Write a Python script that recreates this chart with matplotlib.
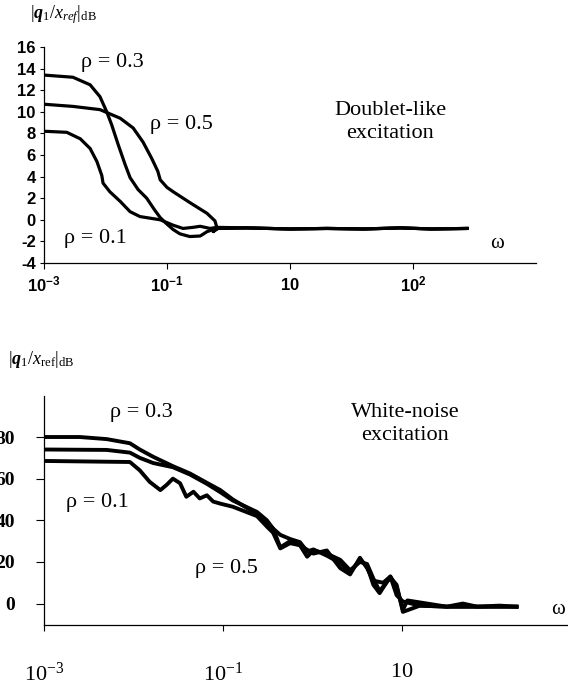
import matplotlib
matplotlib.use("Agg")
import matplotlib.pyplot as plt

plt.rcParams['mathtext.fontset'] = 'custom'
plt.rcParams['mathtext.rm'] = 'Liberation Serif'
plt.rcParams['mathtext.it'] = 'Liberation Serif:italic'
plt.rcParams['mathtext.bf'] = 'Liberation Serif:bold:italic'
plt.rcParams['mathtext.sf'] = 'Liberation Sans:bold'

# x values are log10(omega)
# doublet-like excitation (top)
tail_x = [0.3, 1.0, 1.6, 2.2, 2.8, 3.3, 3.88]
tail_y = [-0.75, -0.85, -0.8, -0.85, -0.75, -0.85, -0.8]

top_x_03 = [-3.0, -2.53, -2.25, -2.09, -1.98, -1.90, -1.79, -1.68, -1.60, -1.47, -1.33,
            -1.20, -1.11, -1.00, -0.90, -0.79, -0.63, -0.46, -0.35, -0.25, -0.17] + tail_x
top_y_03 = [13.4, 13.2, 12.5, 11.4, 10.0, 8.8, 6.9, 5.1, 3.9, 2.8, 2.0,
            0.9, 0.2, -0.4, -0.9, -1.3, -1.55, -1.5, -1.1, -0.9, -0.8] + tail_y

top_x_05 = [-3.0, -2.53, -2.09, -1.76, -1.55, -1.39, -1.25, -1.15, -1.11, -1.00, -0.90,
            -0.63, -0.35, -0.22, -0.19, -0.25, -0.17] + tail_x
top_y_05 = [10.7, 10.5, 10.2, 9.4, 8.5, 7.2, 5.7, 4.5, 3.7, 3.0, 2.6,
            1.6, 0.6, -0.1, -0.7, -1.1, -0.8] + tail_y

top_x_01 = [-3.0, -2.63, -2.41, -2.25, -2.14, -2.06, -2.04, -1.93, -1.76, -1.60, -1.44,
            -1.11, -0.90, -0.74, -0.58, -0.46, -0.30, -0.19] + tail_x
top_y_01 = [8.2, 8.1, 7.5, 6.6, 5.4, 4.1, 3.4, 2.6, 1.7, 0.75, 0.3,
            0.0, -0.5, -0.8, -0.7, -0.6, -0.8, -0.7] + tail_y

top_ticks = [-3, -1, 1, 3]
top_ticklabels = [r'$\mathsf{10^{-3}}$', r'$\mathsf{10^{-1}}$', r'$\mathsf{10}$', r'$\mathsf{10^{2}}$']
top_yticks = [16, 14, 12, 10, 8, 6, 4, 2, 0, -2, -4]

# white-noise excitation (bottom)
bot_x_03 = [-3.0, -2.6, -2.3, -2.04, -1.93, -1.78, -1.56, -1.37, -1.18, -1.03, -0.89, -0.62,
            -0.44, -0.36, -0.25, -0.14, -0.06, 0.01, 0.16, 0.31, 0.42, 0.53, 0.61, 0.68,
            0.75, 0.87, 0.94, 1.01, 1.06, 1.28, 1.50, 1.68, 1.84, 2.09, 2.28]
bot_y_03 = [80, 80, 79, 77, 74, 70.5, 66, 62.5, 58, 54.5, 50, 43,
            36, 33, 31, 29.5, 25, 26, 23, 19.5, 15, 21, 18, 9,
            5, 13, 8, -3, 1.5, 0, -1.5, 0, -1.5, -1, -1.5]

bot_x_05 = [-3.0, -2.3, -2.04, -1.93, -1.78, -1.56, -1.37, -1.18, -1.03, -0.89, -0.62, -0.51,
            -0.44, -0.36, -0.25, -0.14, 0.01, 0.16, 0.31, 0.42, 0.53, 0.61, 0.68, 0.79,
            0.87, 0.94, 1.01, 1.2, 1.5, 1.84, 2.28]
bot_y_05 = [74, 73.8, 72.5, 70, 67.5, 65.5, 62, 57.5, 53.5, 49.5, 44, 40,
            36, 27, 30, 28, 24, 25.5, 17, 14, 22, 17, 11, 10,
            13, 4, 1, -1, -1.5, -1.5, -1.5]

bot_x_01 = [-3.0, -2.04, -1.93, -1.82, -1.70, -1.63, -1.56, -1.48, -1.41, -1.33, -1.26, -1.18,
            -1.11, -1.03, -0.89, -0.62, -0.51, -0.44, -0.36, -0.25, -0.14, -0.06, 0.01, 0.16,
            0.31, 0.42, 0.53, 0.61, 0.68, 0.75, 0.87, 0.94, 1.01, 1.2, 1.5, 1.84, 2.28]
bot_y_01 = [68.5, 68, 64, 58.5, 54.5, 57, 60, 57.8, 51.3, 53.7, 50.5, 52,
            49, 48, 46.5, 42, 37, 34, 26.5, 29, 28, 22.5, 25.5, 24,
            21, 16, 20, 19, 12, 6, 12.5, 9, -4, -1, -1.5, -1.5, -1.5]

bot_ticks = [-3, -1, 1]
bot_ticklabels = [r'$\mathrm{10^{-3}}$', r'$\mathrm{10^{-1}}$', r'$\mathrm{10}$']
bot_yticks = [0, 20, 40, 60, 80]

W, H = 568, 689
fig = plt.figure(figsize=(W / 100, H / 100), dpi=100)

def px(x, y):
    return x / W, 1 - y / H

# top panel
ax1 = fig.add_axes([44 / W, 1 - 263 / H, (536 - 44) / W, (263 - 47) / H])
for xs, ys in [(top_x_03, top_y_03), (top_x_05, top_y_05), (top_x_01, top_y_01)]:
    ax1.plot(xs, ys, color='black', lw=2.3, solid_joinstyle='round')
ax1.set_xlim(-3, 5)
ax1.set_ylim(-4, 16)
ax1.set_yticks(top_yticks)
ax1.set_yticklabels([str(v) for v in top_yticks], fontfamily='Liberation Sans',
                    fontweight='bold', fontsize=12)
ax1.set_xticks(top_ticks)
ax1.set_xticklabels(top_ticklabels, fontsize=12)
ax1.tick_params(axis='y', length=3, width=0.8, pad=3)
ax1.tick_params(axis='x', length=4, width=0.8, pad=5)
for s in ['top', 'right']:
    ax1.spines[s].set_visible(False)
for s in ['left', 'bottom']:
    ax1.spines[s].set_linewidth(0.9)

serif = 'Liberation Serif'
fig.text(*px(112, 63), 'ρ = 0.3', family=serif, fontsize=16, ha='center', va='center')
fig.text(*px(181, 125), 'ρ = 0.5', family=serif, fontsize=16, ha='center', va='center')
fig.text(*px(95, 238), 'ρ = 0.1', family=serif, fontsize=16, ha='center', va='center')
fig.text(*px(390, 122), 'Doublet-like\nexcitation', family=serif, fontsize=16,
         ha='center', va='center', linespacing=1.25)
fig.text(*px(497, 243), 'ω', family=serif, fontsize=15, ha='center', va='center')
fig.text(*px(30, 15), r'$|\mathbf{q}_1/x_{ref}|_{\mathrm{dB}}$', fontsize=13,
         ha='left', va='center')

# bottom panel
ax2 = fig.add_axes([44 / W, 1 - 625 / H, (568 - 44) / W, (625 - 396) / H])
for xs, ys in [(bot_x_03, bot_y_03), (bot_x_05, bot_y_05), (bot_x_01, bot_y_01)]:
    ax2.plot(xs, ys, color='black', lw=2.8, solid_joinstyle='round')
ax2.set_xlim(-3, -3 + 524 / 89.5)
ax2.set_ylim(-10.3, 99.7)
ax2.set_yticks(bot_yticks)
ax2.set_yticklabels([str(v) for v in bot_yticks], fontfamily=serif,
                    fontweight='bold', fontsize=14)
ax2.set_xticks(bot_ticks)
ax2.set_xticklabels(bot_ticklabels, fontsize=16)
ax2.tick_params(axis='y', length=6, width=0.8, pad=15)
ax2.tick_params(axis='x', length=4, width=0.8, pad=22)
for s in ['top', 'right']:
    ax2.spines[s].set_visible(False)
for s in ['left', 'bottom']:
    ax2.spines[s].set_linewidth(0.9)

fig.text(*px(141, 412), 'ρ = 0.3', family=serif, fontsize=16, ha='center', va='center')
fig.text(*px(97, 502), 'ρ = 0.1', family=serif, fontsize=16, ha='center', va='center')
fig.text(*px(226, 568), 'ρ = 0.5', family=serif, fontsize=16, ha='center', va='center')
fig.text(*px(405, 424), 'White-noise\nexcitation', family=serif, fontsize=16,
         ha='center', va='center', linespacing=1.25)
fig.text(*px(558, 610), 'ω', family=serif, fontsize=15, ha='center', va='center')
fig.text(*px(8, 360), r'$|\mathbf{q}_1/x_{\mathrm{ref}}|_{\mathrm{dB}}$', fontsize=13,
         ha='left', va='center')

fig.savefig('out.png', dpi=100, facecolor='white')
